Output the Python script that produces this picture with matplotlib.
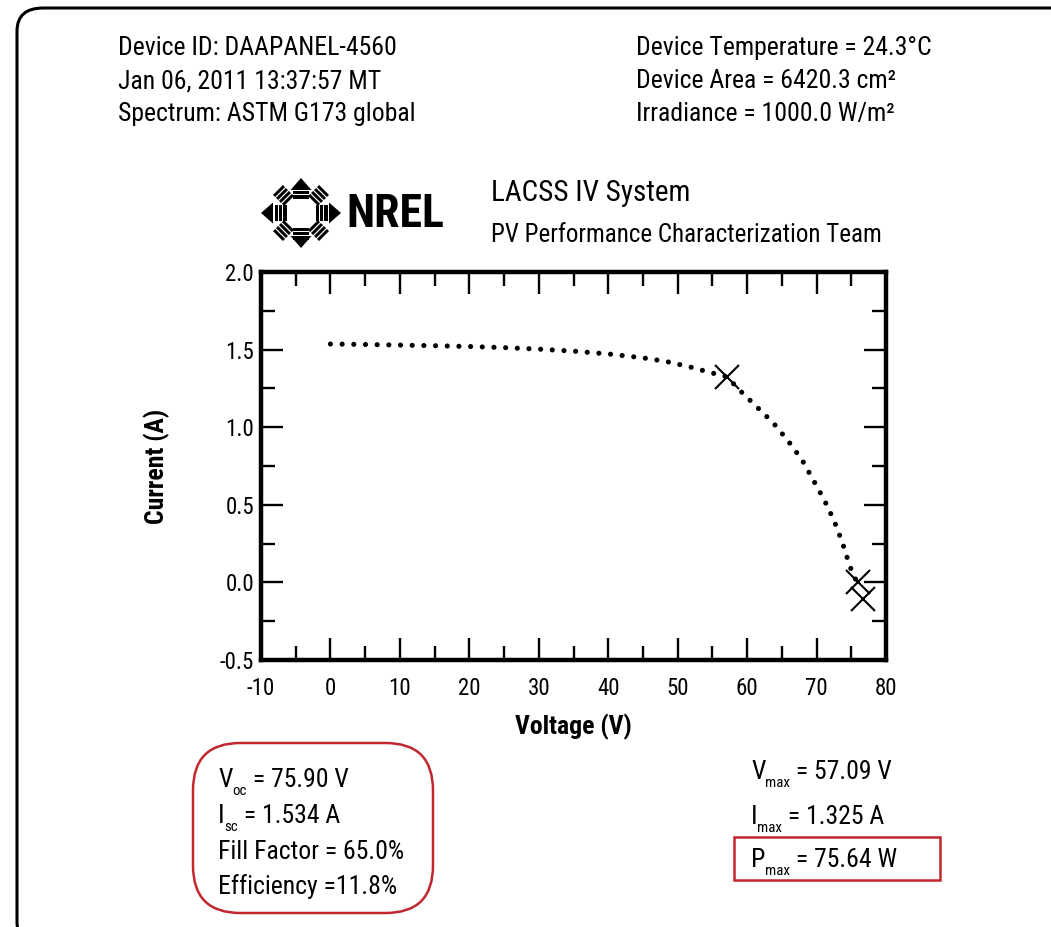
import numpy as np
import matplotlib
matplotlib.use("Agg")
import matplotlib.pyplot as plt
from matplotlib.patches import FancyBboxPatch, Polygon, Rectangle, Circle
from matplotlib import font_manager as fm

# ---------------- data ----------------
voltage = [0.0, 5, 10, 15, 20, 25, 30, 35, 40, 45, 48.4, 51.7, 54.9, 57.09,
           59.0, 61.3, 63.8, 65.9, 67.9, 69.5, 71.1, 72.5, 73.7, 74.7, 75.3, 75.9]
current = [1.536, 1.533, 1.529, 1.525, 1.520, 1.513, 1.503, 1.490, 1.472, 1.447,
           1.423, 1.389, 1.350, 1.325,
           1.235, 1.135, 1.026, 0.912, 0.790, 0.662, 0.532, 0.400, 0.259, 0.118, 0.045, 0.0]
marker_v = [57.09, 75.90, 76.7]
marker_i = [1.325, 0.0, -0.11]
x_major = [-10, 0, 10, 20, 30, 40, 50, 60, 70, 80]
y_major = [-0.5, 0.0, 0.5, 1.0, 1.5, 2.0]
header_left = ["Device ID: DAAPANEL-4560", "Jan 06, 2011 13:37:57 MT",
               "Spectrum: ASTM G173 global"]
header_right = ["Device Temperature = 24.3°C", "Device Area = 6420.3 cm²",
                "Irradiance = 1000.0 W/m²"]

W, H = 1051, 927
names = {f.name for f in fm.fontManager.ttflist}
FONT = [n for n in ["Liberation Sans Narrow", "Roboto Condensed", "DejaVu Sans Condensed",
                    "Liberation Sans", "DejaVu Sans"] if n in names] + ["DejaVu Sans"]
plt.rcParams['font.family'] = FONT
plt.rcParams['lines.scale_dashes'] = False

fig = plt.figure(figsize=(W / 100, H / 100), dpi=100)
fig.patch.set_facecolor("white")

def fx(x):
    return x / W

def fy(y):
    return 1 - y / H

# outer rounded border
fig.patches.append(FancyBboxPatch((fx(17), fy(945)), fx(1100 - 17), (945 - 8) / H,
                                  boxstyle="round,pad=0,rounding_size=0.025",
                                  transform=fig.transFigure, fill=False,
                                  ec="black", lw=2.2, zorder=0))

# ---------------- main axes ----------------
ax = fig.add_axes([fx(261), fy(660), fx(886 - 261), (660 - 272) / H])
ax.plot(voltage, current, color="black", lw=3.7, dashes=(0.01, 8.4),
        dash_capstyle="round", solid_capstyle="round")
ax.plot(marker_v, marker_i, ls="none", marker="x", ms=17, mew=1.5, color="black")
ax.set_xlim(-10, 80)
ax.set_ylim(-0.5, 2.0)
ax.set_xticks(x_major)
ax.set_xticklabels([f"{v:d}" for v in x_major])
ax.set_xticks(np.arange(-5, 80, 10), minor=True)
ax.set_yticks(y_major)
ax.set_yticklabels([f"{v:.1f}" for v in y_major])
ax.set_yticks(np.arange(-0.25, 2.0, 0.5), minor=True)
for s in ax.spines.values():
    s.set_linewidth(3.2)
ax.tick_params(which="both", direction="in", top=True, right=True, width=1.7,
               labelsize=16.5, colors="black")
ax.tick_params(which="major", length=16)
ax.tick_params(which="minor", length=10)
ax.tick_params(axis="x", which="major", pad=12)
ax.tick_params(axis="y", which="major", pad=5)
ax.set_xlabel("Voltage (V)", fontsize=18.5, fontweight="bold", labelpad=10)
ax.set_ylabel("Current (A)", fontsize=18.5, fontweight="bold", labelpad=36)

# ---------------- header text ----------------
HS = 18.5
for i, t in enumerate(header_left):
    fig.text(fx(118), fy(55 + 33 * i), t, fontsize=HS, va="baseline", ha="left")
for i, t in enumerate(header_right):
    fig.text(fx(636), fy(55 + 33 * i), t, fontsize=HS, va="baseline", ha="left")
fig.text(fx(491), fy(201), "LACSS IV System", fontsize=21, va="baseline")
fig.text(fx(491), fy(242), "PV Performance Characterization Team", fontsize=18, va="baseline")

# ---------------- NREL logo ----------------
lx0, lx1, ly0, ly1 = 240, 470, 176, 252
lax = fig.add_axes([fx(lx0), fy(ly1), fx(lx1 - lx0), (ly1 - ly0) / H])
lax.set_xlim(lx0, lx1)
lax.set_ylim(ly1, ly0)
lax.axis("off")
cx, cy = 301, 213

def rot(pts, ang):
    a = np.deg2rad(ang)
    c, s = np.cos(a), np.sin(a)
    return [(cx + px * c - py * s, cy - (px * s + py * c)) for px, py in pts]

for ang in [0, 90, 180, 270]:
    r_tip = 40 if ang in (0, 180) else 35
    head = [(r_tip - 12, -10.5), (r_tip, 0), (r_tip - 12, 10.5)]
    lax.add_patch(Polygon(rot(head, ang), closed=True, fc="black", ec="none"))
    for k in range(3):
        r0 = 14.5 + k * 4.4
        bar = [(r0, -8), (r0 + 3.2, -8), (r0 + 3.2, 8), (r0, 8)]
        lax.add_patch(Polygon(rot(bar, ang), closed=True, fc="black", ec="none"))
for ang in [45, 135, 225, 315]:
    for k in range(4):
        r0 = 17 + k * 4.2
        bar = [(r0, -7), (r0 + 3.0, -7), (r0 + 3.0, 7), (r0, 7)]
        lax.add_patch(Polygon(rot(bar, ang), closed=True, fc="black", ec="none"))
lax.text(346, 214, "NREL", fontsize=33, fontweight="heavy", va="center", ha="left",
         color="black")

# ---------------- rich text helper ----------------
fig.canvas.draw()
renderer = fig.canvas.get_renderer()
BS = 18.5

def rich(x, y, parts, size=BS):
    cur = x
    for txt, kind in parts:
        if kind == "sub":
            t = fig.text(fx(cur), fy(y + 8), txt, fontsize=size * 0.58, va="baseline")
        else:
            t = fig.text(fx(cur), fy(y), txt, fontsize=size, va="baseline")
        cur += t.get_window_extent(renderer).width

red = "#c1272d"
fig.patches.append(FancyBboxPatch((fx(193), fy(913)), fx(433 - 193), (913 - 743) / H,
                                  boxstyle="round,pad=0,rounding_size=0.045",
                                  transform=fig.transFigure, fill=False,
                                  ec=red, lw=1.8, zorder=1,
                                  mutation_aspect=W / H))
rich(218, 787, [("V", "n"), ("oc", "sub"), (" = 75.90 V", "n")])
rich(218, 823, [("I", "n"), ("sc", "sub"), (" = 1.534 A", "n")])
fig.text(fx(218), fy(859), "Fill Factor = 65.0%", fontsize=BS, va="baseline")
fig.text(fx(218), fy(894), "Efficiency =11.8%", fontsize=BS, va="baseline")

rich(751, 779, [("V", "n"), ("max", "sub"), (" = 57.09 V", "n")])
rich(751, 824, [("I", "n"), ("max", "sub"), (" = 1.325 A", "n")])
fig.patches.append(Rectangle((fx(734), fy(880)), fx(940 - 734), (880 - 837) / H,
                             transform=fig.transFigure, fill=False, ec=red, lw=1.8))
rich(751, 867, [("P", "n"), ("max", "sub"), (" = 75.64 W", "n")])

fig.savefig("out.png", dpi=100, facecolor="white")
